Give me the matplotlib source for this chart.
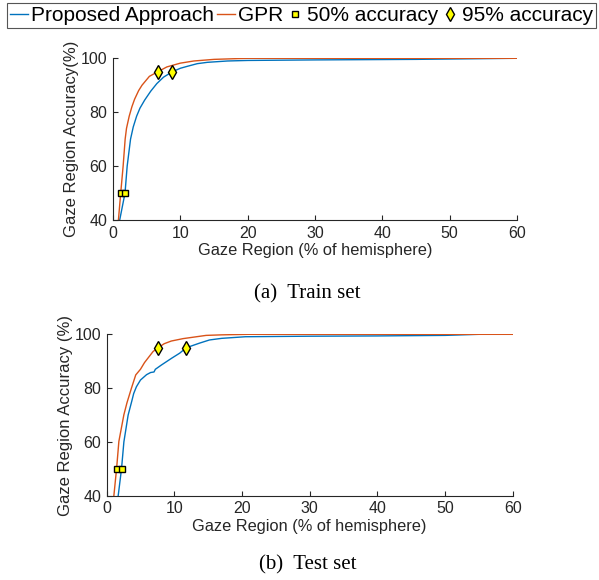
import numpy as np
import matplotlib.pyplot as plt

# train set curves (x: % of hemisphere, y: accuracy %)
train_prop_x = [0.99, 1.78, 2.1, 2.6, 3.0, 3.5, 4.0, 4.7, 5.6, 6.5, 7.5, 8.8, 10, 11, 12.5, 14, 17, 20, 30, 45, 60]
train_prop_y = [40, 50, 60, 70, 74.5, 78.5, 81.5, 84.5, 87.8, 90.6, 93, 95, 96.3, 97, 98, 98.5, 99, 99.2, 99.4, 99.6, 100]
train_gpr_x = [0.8, 1.14, 1.5, 1.8, 2.0, 2.4, 2.8, 3.2, 3.8, 4.3, 5.4, 6.64, 8, 10, 12, 15, 20, 60]
train_gpr_y = [40, 50, 60, 70, 74, 78.5, 82, 84.8, 88, 90, 93.3, 95, 96.8, 98.2, 99, 99.6, 100, 100]

# test set curves
test_prop_x = [1.71, 2.2, 2.55, 3.18, 3.7, 4.0, 4.4, 5.0, 5.9, 6.5, 7.0, 7.2, 8.1, 9.6, 10.8, 11.76, 13.7, 15.2, 17, 20.5, 30, 40, 50, 55, 60]
test_prop_y = [40, 50, 60, 70, 75, 78, 80.5, 83, 85, 85.8, 86, 87, 88.6, 91.1, 93, 95, 96.7, 97.9, 98.5, 99.1, 99.3, 99.4, 99.6, 100, 100]
test_gpr_x = [1.07, 1.47, 1.81, 2.55, 3.0, 3.67, 4.3, 5.0, 5.6, 6.86, 7.6, 8.5, 9.55, 11.3, 13, 14.7, 17, 20.9, 60]
test_gpr_y = [40, 50, 60.2, 70.1, 74.5, 80, 84.9, 87, 89.5, 93.6, 95, 96.5, 97.5, 98.4, 99, 99.6, 99.8, 100, 100]

# marker positions
train_50 = [1.14, 1.78]
train_95 = [6.64, 8.8]
test_50 = [1.47, 2.2]
test_95 = [7.6, 11.76]

blue = '#0072BD'
orange = '#D95319'
axcol = '#262626'

plt.rcParams['font.family'] = ['Liberation Sans', 'DejaVu Sans']

fig = plt.figure(figsize=(5.99, 5.80), dpi=100)

sq = dict(marker='s', ls='none', color='yellow', mec='black', mew=1.0, ms=4.5)
dm = dict(marker='d', ls='none', color='yellow', mec='black', mew=1.0, ms=7)


def draw(ax, px, py, gx, gy, m50, m95, ylabel):
    ax.plot(px, py, color=blue, lw=1.0, zorder=2)
    ax.plot(gx, gy, color=orange, lw=1.0, zorder=2)
    ax.plot(m50, [50, 50], zorder=3, **sq)
    ax.plot(m95, [95, 95], zorder=3, **dm)
    ax.set_xlim(0, 60)
    ax.set_ylim(40, 100)
    ax.set_xticks([0, 10, 20, 30, 40, 50, 60])
    ax.set_yticks([40, 60, 80, 100])
    ax.spines['top'].set_visible(False)
    ax.spines['right'].set_visible(False)
    for s in ['left', 'bottom']:
        ax.spines[s].set_color(axcol)
        ax.spines[s].set_linewidth(0.8)
    ax.tick_params(direction='in', length=3.5, colors=axcol, labelsize=11.5, pad=4)
    ax.set_xlabel('Gaze Region (% of hemisphere)', fontsize=11.8, color=axcol, labelpad=2)
    ax.set_ylabel(ylabel, fontsize=12, color=axcol, labelpad=1)


ax1 = fig.add_axes([0.1887, 0.6207, 0.6745, 0.2788])
draw(ax1, train_prop_x, train_prop_y, train_gpr_x, train_gpr_y, train_50, train_95,
     'Gaze Region Accuracy(%)')
ax2 = fig.add_axes([0.178, 0.1453, 0.678, 0.2783])
draw(ax2, test_prop_x, test_prop_y, test_gpr_x, test_gpr_y, test_50, test_95,
     'Gaze Region Accuracy (%)')

fig.text(0.513, 0.494, '(a)  Train set', ha='center', va='center', fontsize=15,
         family='Liberation Serif')
fig.text(0.513, 0.026, '(b)  Test set', ha='center', va='center', fontsize=15,
         family='Liberation Serif')

h1, = ax1.plot([], [], color=blue, lw=1.0)
h2, = ax1.plot([], [], color=orange, lw=1.0)
h3, = ax1.plot([], [], **sq)
h4, = ax1.plot([], [], **dm)
leg = fig.legend([h1, h2, h3, h4],
                 ['Proposed Approach', 'GPR', '50% accuracy', '95% accuracy'],
                 loc='upper left', bbox_to_anchor=(0.012, 0.995), ncol=4,
                 fontsize=15, handlelength=0.87, handletextpad=0.12,
                 columnspacing=0.15, borderpad=0.15, borderaxespad=0,
                 fancybox=False, framealpha=1, edgecolor='#555555')
leg.get_frame().set_linewidth(0.8)

fig.savefig('out.png', dpi=100)
